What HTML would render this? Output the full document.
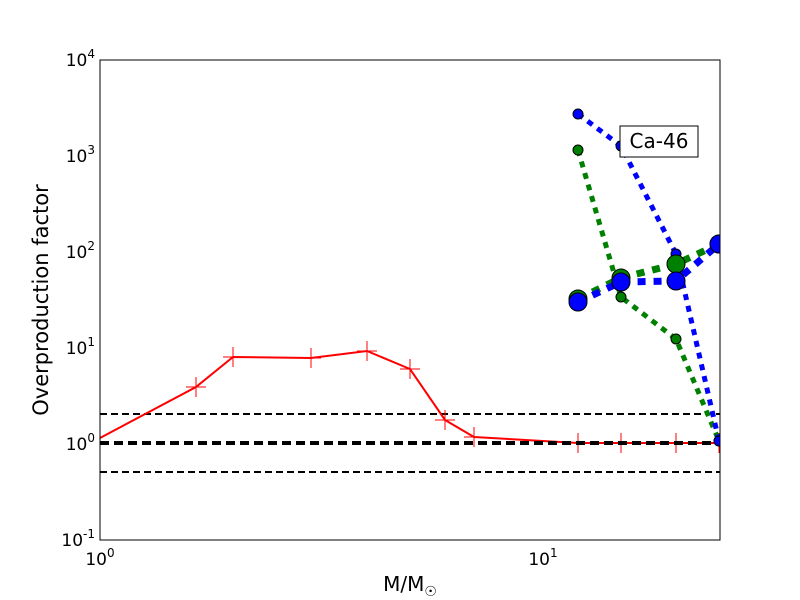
<!DOCTYPE html>
<html><head><style>body{margin:0;background:#fff}svg{display:block}</style></head><body>
<svg width="800" height="600" xmlns="http://www.w3.org/2000/svg" font-family="DejaVu Sans, Liberation Sans, sans-serif">
<defs><clipPath id="c"><rect x="100" y="60" width="620" height="480"/></clipPath></defs>
<rect width="800" height="600" fill="#fff"/>
<g clip-path="url(#c)">
<line x1="100" y1="414" x2="720" y2="414" stroke="#000" stroke-width="2" stroke-dasharray="7,4"/>
<line x1="100" y1="472" x2="720" y2="472" stroke="#000" stroke-width="2" stroke-dasharray="7,4"/>
<polyline fill="none" stroke="red" stroke-width="2" points="100,438 196,387 233,357 311,358 367,351 410,369 445,420 474,437 578,443 621,443 676,443 719,443"/>
<g stroke="red" stroke-width="1">
<path d="M186,387h20M196,377v20M223,357h20M233,347v20M301,358h20M311,348v20M357,351h20M367,341v20M400,369h20M410,359v20M435,420h20M445,410v20M464,437h20M474,427v20M568,443h20M578,433v20M611,443h20M621,433v20M666,443h20M676,433v20M709,443h20M719,433v20"/>
</g>
<line x1="100" y1="443" x2="720" y2="443" stroke="#000" stroke-width="4" stroke-dasharray="9,5"/>
<polyline fill="none" stroke="green" stroke-width="5" stroke-dasharray="6,6" points="578,150 621,297 676,339 719,441"/>
<polyline fill="none" stroke="blue" stroke-width="5" stroke-dasharray="6,6" points="578,114 621,146 676,254 719,441"/>
<polyline fill="none" stroke="green" stroke-width="7" stroke-dasharray="8,8" points="578,299 621,278 676,264 719,244"/>
<polyline fill="none" stroke="blue" stroke-width="7" stroke-dasharray="8,8" points="578,302 621,282 676,281 719,244"/>
<g stroke="#000" stroke-width="1">
<circle cx="578" cy="150" r="5" fill="green"/><circle cx="621" cy="297" r="5" fill="green"/><circle cx="676" cy="339" r="5" fill="green"/><circle cx="719" cy="441" r="5" fill="green"/>
<circle cx="578" cy="114" r="5" fill="blue"/><circle cx="621" cy="146" r="5" fill="blue"/><circle cx="676" cy="254" r="5" fill="blue"/><circle cx="719" cy="441" r="5" fill="blue"/>
<circle cx="578" cy="299" r="9" fill="green"/><circle cx="621" cy="278" r="9" fill="green"/><circle cx="676" cy="264" r="9" fill="green"/><circle cx="719" cy="244" r="9" fill="green"/>
<circle cx="578" cy="302" r="9" fill="blue"/><circle cx="621" cy="282" r="9" fill="blue"/><circle cx="676" cy="281" r="9" fill="blue"/><circle cx="719" cy="244" r="9" fill="blue"/>
</g>
</g>
<rect x="620" y="126" width="78" height="31" fill="#fff" stroke="#000" stroke-width="1"/>
<text x="659" y="148" font-size="20" text-anchor="middle">Ca-46</text>
<rect x="100" y="60" width="620" height="480" fill="none" stroke="#000" stroke-width="1"/>
<g stroke="#000" stroke-width="1" id="ticks"></g>
<g font-size="17" text-anchor="end">
<text x="95" y="66">10<tspan font-size="12" dy="-8">4</tspan></text>
<text x="95" y="162">10<tspan font-size="12" dy="-8">3</tspan></text>
<text x="95" y="258">10<tspan font-size="12" dy="-8">2</tspan></text>
<text x="95" y="354">10<tspan font-size="12" dy="-8">1</tspan></text>
<text x="95" y="450">10<tspan font-size="12" dy="-8">0</tspan></text>
<text x="95" y="546">10<tspan font-size="12" dy="-8">-1</tspan></text>
</g>
<g font-size="17" text-anchor="middle">
<text x="100" y="565">10<tspan font-size="12" dy="-8">0</tspan></text>
<text x="543" y="565">10<tspan font-size="12" dy="-8">1</tspan></text>
</g>
<text x="410" y="591" font-size="20" text-anchor="middle">M/M<tspan font-size="14" dy="5">☉</tspan></text>
<text transform="translate(48,300) rotate(-90)" font-size="21" text-anchor="middle">Overproduction factor</text>
<script>
var g=document.getElementById('ticks'),s='';
for(var d=0;d<5;d++){var y0=540-96*d;s+='<path d="M100,'+y0+'h8M720,'+y0+'h-8"/>';
for(var k=2;k<10;k++){var y=y0-96*Math.log10(k);s+='<path d="M100,'+y+'h4M720,'+y+'h-4"/>';}}
s+='<path d="M100,60h8M720,60h-8"/>';
for(var k=1;k<=25;k++){var x=100+443*Math.log10(k);var L=(k==1||k==10)?8:4;s+='<path d="M'+x+',540v-'+L+'M'+x+',60v'+L+'"/>';if(k>=10)k+=9;}
g.innerHTML=s;
</script>
</svg>
</body></html>
